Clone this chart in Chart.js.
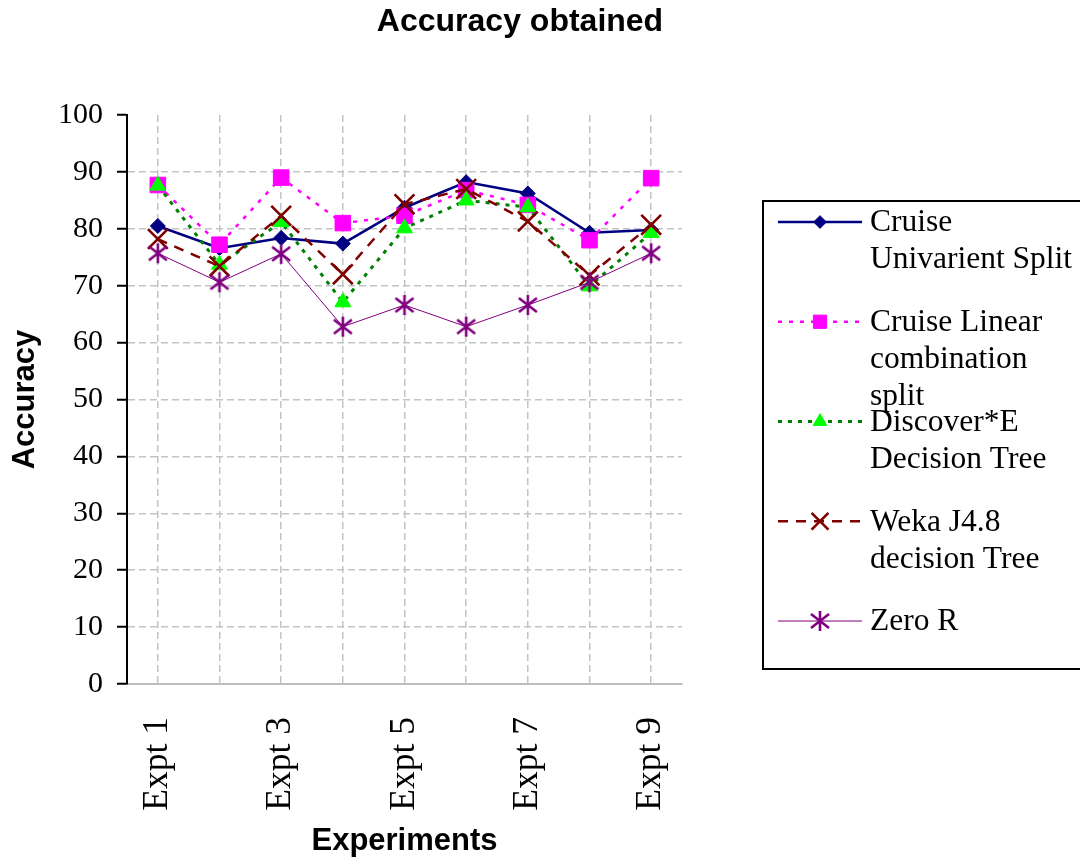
<!DOCTYPE html>
<html>
<head>
<meta charset="utf-8">
<title>Accuracy obtained</title>
<script src="https://cdn.jsdelivr.net/npm/chart.js@4.4.1/dist/chart.umd.min.js"></script>
<style>
    html, body { margin: 0; padding: 0; background: #fff; }
    #contenedor { width: 1080px; height: 861px; }
</style>
</head>
<body>
<div id="contenedor"><canvas id="graficoPrecision" width="1080" height="861"></canvas></div>
<script>
// datos
const experimentos = ['Expt 1', 'Expt 2', 'Expt 3', 'Expt 4', 'Expt 5', 'Expt 6', 'Expt 7', 'Expt 8', 'Expt 9'];
const cruiseUnivariente = [80.5, 76.6, 78.4, 77.4, 83.7, 88.2, 86.2, 79.3, 79.8];
const cruiseLineal = [87.7, 77.2, 89.0, 81.0, 82.3, 86.8, 84.2, 78.0, 88.9];
const discoverE = [87.6, 73.7, 81.2, 67.1, 80.1, 85.0, 83.8, 69.9, 79.3];
const wekaJ48 = [78.2, 73.4, 82.3, 72.0, 84.3, 87.0, 81.3, 71.8, 80.7];
const zeroR = [75.7, 70.6, 75.6, 62.8, 66.6, 62.8, 66.6, 70.6, 75.7];
const nombresLeyenda = [
    ['Cruise', 'Univarient Split'],
    ['Cruise Linear', 'combination', 'split'],
    ['Discover*E', 'Decision Tree'],
    ['Weka J4.8', 'decision Tree'],
    ['Zero R']
];
const ejeY = { min: 0, max: 100, paso: 10 };

// asterisco para Zero R (el 'star' de Chart.js tiene 8 brazos)
function crearAsterisco(color) {
    const c = document.createElement('canvas');
    c.width = 24; c.height = 24;
    const g = c.getContext('2d');
    g.strokeStyle = color;
    g.lineWidth = 2.6;
    g.beginPath();
    g.moveTo(12, 2); g.lineTo(12, 22);
    g.moveTo(3, 5); g.lineTo(21, 19);
    g.moveTo(21, 5); g.lineTo(3, 19);
    g.stroke();
    return c;
}

// titulo y leyenda propios, la leyenda tiene textos en varias lineas
const extras = {
    id: 'extras',
    afterDraw(chart) {
        const ctx = chart.ctx;
        ctx.save();
        ctx.fillStyle = '#000';
        ctx.font = 'bold 32px "Liberation Sans", Arial, sans-serif';
        ctx.textAlign = 'center';
        ctx.textBaseline = 'middle';
        ctx.fillText('Accuracy obtained', 520, 22);

        ctx.strokeStyle = '#000';
        ctx.lineWidth = 2;
        ctx.strokeRect(763, 201, 340, 468);

        chart.data.datasets.forEach(function (ds, i) {
            const y = 222 + i * 99.75;
            ctx.beginPath();
            ctx.setLineDash(ds.borderDash || []);
            ctx.strokeStyle = ds.borderColor;
            ctx.lineWidth = ds.borderWidth;
            ctx.moveTo(778, y);
            ctx.lineTo(862, y);
            ctx.stroke();
            ctx.setLineDash([]);

            ctx.fillStyle = ds.pointBackgroundColor;
            ctx.strokeStyle = ds.pointBorderColor;
            ctx.lineWidth = ds.pointBorderWidth;
            Chart.helpers.drawPoint(ctx, {
                pointStyle: ds.pointStyle,
                radius: ds.pointRadius * 0.85,
                borderWidth: ds.pointBorderWidth,
                rotation: 0
            }, 820, y);

            ctx.fillStyle = '#000';
            ctx.font = '31.5px "Liberation Serif", "Times New Roman", serif';
            ctx.textAlign = 'left';
            ctx.textBaseline = 'middle';
            nombresLeyenda[i].forEach(function (linea, k) {
                ctx.fillText(linea, 870, y + 1 + k * 37);
            });
        });
        ctx.restore();
    }
};

function serie(etiqueta, datos, color, relleno, dash, ancho, estilo, radio, bordePunto, orden) {
    return {
        label: etiqueta,
        data: datos,
        borderColor: color,
        borderWidth: ancho,
        borderDash: dash,
        pointStyle: estilo,
        pointRadius: radio,
        pointHoverRadius: radio,
        pointBackgroundColor: relleno,
        pointBorderColor: relleno,
        pointBorderWidth: bordePunto,
        fill: false,
        tension: 0,
        order: orden
    };
}

document.addEventListener('DOMContentLoaded', function () {
    const ctx = document.getElementById('graficoPrecision');
    const grisRejilla = '#c4c4c4';

    new Chart(ctx, {
        type: 'line',
        data: {
            labels: experimentos,
            datasets: [
                serie(nombresLeyenda[0].join(' '), cruiseUnivariente, '#000080', '#000080', [], 2.5, 'rectRot', 7.5, 1, 5),
                serie(nombresLeyenda[1].join(' '), cruiseLineal, '#ff00ff', '#ff00ff', [4, 7], 2.5, 'rect', 11, 1, 4),
                serie(nombresLeyenda[2].join(' '), discoverE, '#008000', '#00ff00', [4, 6], 3, 'triangle', 9.2, 1, 3),
                serie(nombresLeyenda[3].join(' '), wekaJ48, '#800000', '#800000', [10, 8], 2.5, 'crossRot', 14, 2.6, 2),
                serie(nombresLeyenda[4].join(' '), zeroR, '#800080', '#800080', [], 1, crearAsterisco('#800080'), 11, 1, 1)
            ]
        },
        options: {
            responsive: false,
            animation: false,
            devicePixelRatio: 1,
            layout: {
                padding: { top: 115, right: 398, bottom: 4, left: 0 }
            },
            plugins: {
                legend: { display: false },
                title: { display: false },
                tooltip: { enabled: false }
            },
            scales: {
                x: {
                    offset: true,
                    afterFit: function (escala) { escala.height = 173; },
                    border: { display: true, color: '#bdbdbd', width: 2, dash: [7, 4] },
                    grid: {
                        color: grisRejilla,
                        lineWidth: 1.5,
                        drawTicks: false
                    },
                    ticks: {
                        autoSkip: false,
                        minRotation: 90,
                        maxRotation: 90,
                        padding: 33,
                        color: '#000',
                        font: { family: '"Liberation Serif", "Times New Roman", serif', size: 35.5 },
                        callback: function (valor, indice) {
                            return indice % 2 === 0 ? this.getLabelForValue(valor) : '';
                        }
                    },
                    title: {
                        display: true,
                        text: 'Experiments',
                        color: '#000',
                        font: { family: '"Liberation Sans", Arial, sans-serif', size: 31, weight: 'bold', lineHeight: 1 },
                        padding: { top: 0, bottom: 0 }
                    }
                },
                y: {
                    min: ejeY.min,
                    max: ejeY.max,
                    afterFit: function (escala) { escala.width = 127; },
                    border: { display: true, color: '#000', width: 2, dash: [7, 4] },
                    grid: {
                        color: function (c) { return c.tick && c.tick.value === ejeY.max ? 'rgba(0,0,0,0)' : grisRejilla; },
                        lineWidth: 1.5,
                        drawTicks: true,
                        tickLength: 10,
                        tickColor: '#000',
                        tickWidth: 2,
                        tickBorderDash: []
                    },
                    ticks: {
                        stepSize: ejeY.paso,
                        padding: 14,
                        color: '#000',
                        font: { family: '"Liberation Serif", "Times New Roman", serif', size: 30 }
                    },
                    title: {
                        display: true,
                        text: 'Accuracy',
                        color: '#000',
                        font: { family: '"Liberation Sans", Arial, sans-serif', size: 31, weight: 'bold', lineHeight: 1 },
                        padding: { top: 10, bottom: 0 }
                    }
                }
            }
        },
        plugins: [extras]
    });

    console.log('Accuracy obtained - grafico listo');
});
</script>
</body>
</html>
